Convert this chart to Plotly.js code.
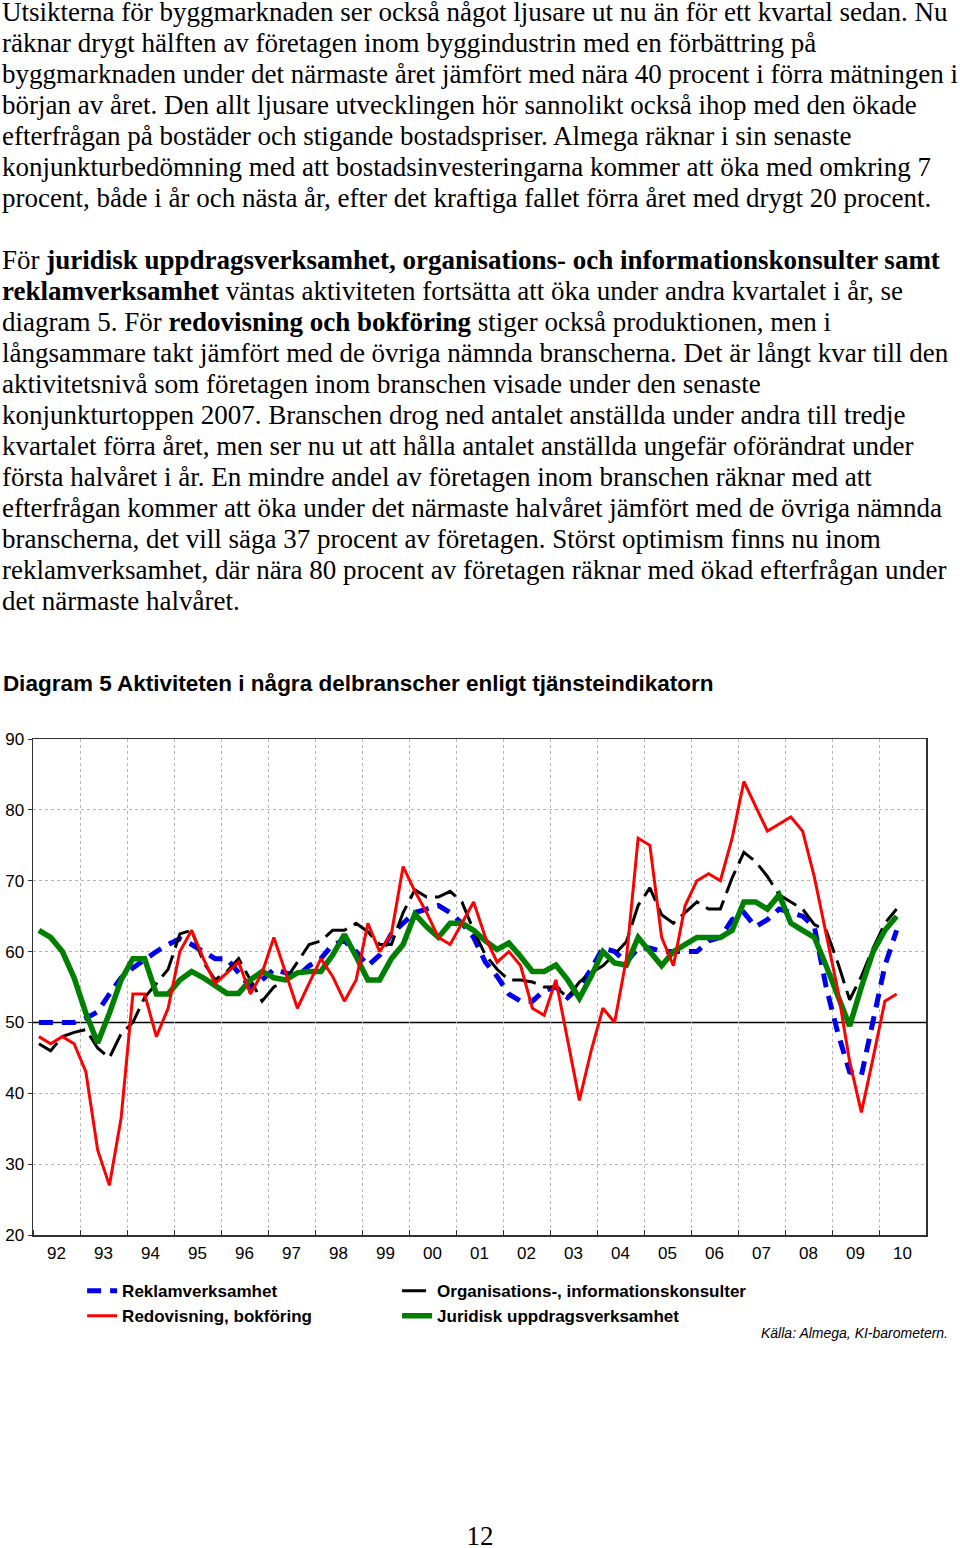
<!DOCTYPE html>
<html>
<head>
<meta charset="utf-8">
<script src="https://cdn.plot.ly/plotly-3.0.1.min.js"></script>
<style>
  html, body { margin:0; padding:0; background:#fff; }
  body { width:960px; height:1548px; position:relative; overflow:hidden; }
  #text { position:absolute; left:2px; top:-3px; font-family:"Liberation Serif","Times New Roman",serif; font-size:27px; line-height:31px; white-space:nowrap; color:#000; }
  #chart { position:absolute; left:0; top:660px; width:960px; height:700px; }
  #pagenum { position:absolute; left:0; top:1521px; width:960px; text-align:center; font-family:"Liberation Serif","Times New Roman",serif; font-size:27px; line-height:31px; color:#000; }
</style>
</head>
<body>
<div id="text">
Utsikterna för byggmarknaden ser också något ljusare ut nu än för ett kvartal sedan. Nu<br>
räknar drygt hälften av företagen inom byggindustrin med en förbättring på<br>
byggmarknaden under det närmaste året jämfört med nära 40 procent i förra mätningen i<br>
början av året. Den allt ljusare utvecklingen hör sannolikt också ihop med den ökade<br>
efterfrågan på bostäder och stigande bostadspriser. Almega räknar i sin senaste<br>
konjunkturbedömning med att bostadsinvesteringarna kommer att öka med omkring 7<br>
procent, både i år och nästa år, efter det kraftiga fallet förra året med drygt 20 procent.<br>
<br>
För <b>juridisk uppdragsverksamhet, organisations- och informationskonsulter samt</b><br>
<b>reklamverksamhet</b> väntas aktiviteten fortsätta att öka under andra kvartalet i år, se<br>
diagram 5. För <b>redovisning och bokföring</b> stiger också produktionen, men i<br>
långsammare takt jämfört med de övriga nämnda branscherna. Det är långt kvar till den<br>
aktivitetsnivå som företagen inom branschen visade under den senaste<br>
konjunkturtoppen 2007. Branschen drog ned antalet anställda under andra till tredje<br>
kvartalet förra året, men ser nu ut att hålla antalet anställda ungefär oförändrat under<br>
första halvåret i år. En mindre andel av företagen inom branschen räknar med att<br>
efterfrågan kommer att öka under det närmaste halvåret jämfört med de övriga nämnda<br>
branscherna, det vill säga 37 procent av företagen. Störst optimism finns nu inom<br>
reklamverksamhet, där nära 80 procent av företagen räknar med ökad efterfrågan under<br>
det närmaste halvåret.
</div>
<div id="chart"></div>
<div id="pagenum">12</div>
<script>
// ---- data (quarterly, 1992 Q1 – 2010 Q2) ----
const firstYear = 1992;
const yearLabels = ['92','93','94','95','96','97','98','99','00','01','02','03','04','05','06','07','08','09','10'];
const yTickValues = [20, 30, 40, 50, 60, 70, 80, 90];
const referenceLevel = 50;

const reklam = [
  50, 50, 50, 50, 50.6, 51.5, 54, 56.3, 57.7, 58.9, 60, 61, 61.8, 61,
  60, 59, 59, 57, 55, 56, 57.5, 57, 56.5, 58, 59, 61,
  61.5, 60, 58, 59.5, 62.5, 64, 65.5, 66, 66.5, 65.5, 64, 62, 58.5,
  56.5, 54, 53, 53, 54.5, 55, 53.5, 55, 57.5, 60.5, 60, 58.5, 60.5,
  60.5, 60, 60, 60, 60, 61.5, 62, 64.5, 65.5, 63.5, 64.5, 66, 65.5,
  65, 63.5, 55, 48.5, 43, 42.5, 50, 58, 63
];
const organisation = [
  47, 46, 48, 48.6, 49, 46.4, 45, 48.4, 50, 53.5, 55.5, 57.5, 62.5, 63,
  58.5, 56, 57.2, 59, 56, 53, 55, 56, 58.5, 61, 61.5, 63,
  63, 64, 62.8, 61, 61, 65.5, 68.7, 67.7, 67.7, 68.5, 67, 63, 59.5,
  57.5, 56, 56, 55.7, 55, 55, 53.5, 55.7, 57, 58, 59.6, 61.4, 66.5,
  69, 65.2, 64, 65.5, 67, 66, 66, 70.4, 74, 72.7, 70.6, 68, 67,
  66, 63.8, 63, 58.4, 53.2, 56.5, 60.5, 64, 66
];
const redovisning = [
  48, 47, 48, 47, 43, 32, 27, 36.5, 54, 54, 48, 52, 60, 63,
  59, 55.5, 57, 58.5, 54, 57, 62, 57, 52, 55.5, 59, 56.5,
  53, 56, 64, 60, 62.5, 72, 68.5, 65.5, 62, 61, 64, 67, 62,
  58.5, 60, 58, 52, 51, 56, 47.5, 39, 46, 52, 50, 59, 76,
  75, 62, 58, 66.5, 70, 71, 70, 76, 84, 80.5, 77, 78, 79,
  77, 70.5, 62.5, 54.5, 44.5, 37.3, 45, 53, 54
];
const juridisk = [
  63, 62, 60, 56.3, 51.3, 47.1, 51.3, 56, 59, 59, 54, 54, 56, 57.2,
  56.3, 55.1, 54.1, 54.1, 56, 57.2, 56.3, 56, 57, 57.2, 57.2, 59.5,
  62.4, 59.3, 56, 56, 59, 61, 65.3, 63.5, 62, 64, 64, 63, 61.5,
  60.3, 61.2, 59.3, 57.2, 57.2, 58.1, 56, 53.4, 56.5, 60, 58.4, 58.1, 62,
  60, 58, 60, 61, 62, 62, 62, 63, 67, 67, 66, 68, 64,
  63, 62, 58, 53.6, 49.5, 55, 60, 63, 65
];
const sourceText = 'Källa: Almega, KI-barometern.';
const chartTitle = 'Diagram 5 Aktiviteten i några delbranscher enligt tjänsteindikatorn';

// quarter midpoints on a continuous year axis
const qx = arr => arr.map((_, i) => firstYear + (i + 0.5) / 4);
const lastYear = firstYear + yearLabels.length;

const traces = [
  { x: qx(reklam), y: reklam, name: 'Reklamverksamhet', type: 'scatter', mode: 'lines',
    line: { color: '#0000EE', width: 5, dash: '14px,9px' }, legend: 'legend', legendrank: 1 },
  { x: qx(organisation), y: organisation, name: 'Organisations-, informationskonsulter', type: 'scatter', mode: 'lines',
    line: { color: '#000000', width: 3, dash: '24px,8px' }, legend: 'legend2', legendrank: 1 },
  { x: qx(juridisk), y: juridisk, name: 'Juridisk uppdragsverksamhet', type: 'scatter', mode: 'lines',
    line: { color: '#008000', width: 5.5 }, legend: 'legend2', legendrank: 2 },
  { x: qx(redovisning), y: redovisning, name: 'Redovisning, bokföring', type: 'scatter', mode: 'lines',
    line: { color: '#FF0000', width: 3 }, legend: 'legend', legendrank: 2 }
];

const sans = 'Liberation Sans, Arial, sans-serif';
const tickFont = { family: sans, size: 17, color: '#000' };
const legendFont = { family: sans, size: 17, weight: 700, color: '#000' };
const gridStyle = { gridcolor: '#b5b5b5', griddash: 'dot', gridwidth: 1 };

const layout = {
  width: 960, height: 700,
  margin: { l: 33, r: 34, t: 79, b: 125, pad: 0 },
  paper_bgcolor: 'rgba(0,0,0,0)', plot_bgcolor: '#fff',
  font: { family: sans, color: '#000' },
  title: {
    text: chartTitle, xref: 'container', yref: 'container',
    x: 0.003, xanchor: 'left', y: 0.967, yanchor: 'middle',
    font: { family: sans, size: 22.5, weight: 700, color: '#000' }
  },
  showlegend: true,
  legend: {
    orientation: 'v', x: 0.055, xanchor: 'left', y: -0.077, yanchor: 'top',
    traceorder: 'normal', tracegroupgap: 0, font: legendFont,
    bgcolor: 'rgba(0,0,0,0)', borderwidth: 0
  },
  legend2: {
    orientation: 'v', x: 0.4077, xanchor: 'left', y: -0.077, yanchor: 'top',
    traceorder: 'normal', tracegroupgap: 0, font: legendFont,
    bgcolor: 'rgba(0,0,0,0)', borderwidth: 0
  },
  xaxis: {
    range: [firstYear, lastYear], showgrid: false, zeroline: false,
    tickmode: 'array',
    tickvals: yearLabels.map((_, k) => firstYear + k + 0.5),
    ticktext: yearLabels, ticks: '', ticklabelstandoff: 2,
    tickfont: tickFont,
    showline: true, linecolor: '#333', linewidth: 1.5, mirror: true,
    minor: Object.assign({ tick0: firstYear, dtick: 1, ticks: 'inside', ticklen: 5, tickcolor: '#333', tickwidth: 1,
             showgrid: true }, gridStyle),
    fixedrange: true
  },
  yaxis: {
    range: [20, 90], tickmode: 'array', tickvals: yTickValues, showgrid: false,
    minor: Object.assign({ tickmode: 'array', tickvals: yTickValues.filter(v => v !== referenceLevel),
             ticks: '', showgrid: true }, gridStyle),
    zeroline: false, ticks: 'outside', ticklen: 4, tickcolor: '#333',
    tickfont: tickFont, showline: true, linecolor: '#333', linewidth: 1.5, mirror: true,
    fixedrange: true
  },
  yaxis2: {
    range: [20, 90], tickmode: 'array', tickvals: yTickValues, overlaying: 'y', side: 'right', anchor: 'x',
    showgrid: false, zeroline: false, ticks: 'outside', ticklen: 4, tickcolor: '#333',
    tickfont: tickFont, showline: true, linecolor: '#333', linewidth: 1.5,
    fixedrange: true
  },
  shapes: [
    { type: 'line', xref: 'paper', x0: 0, x1: 1, yref: 'y', y0: referenceLevel, y1: referenceLevel,
      line: { color: '#000', width: 1.5 }, layer: 'between' }
  ],
  annotations: [
    { text: sourceText, xref: 'paper', yref: 'paper', x: 1.0269, xanchor: 'right',
      y: -0.197, yanchor: 'middle', showarrow: false,
      font: { family: sans, size: 14, style: 'italic', color: '#000' } }
  ]
};

Plotly.newPlot('chart', traces, layout, { displayModeBar: false, staticPlot: true });
</script>
</body>
</html>
